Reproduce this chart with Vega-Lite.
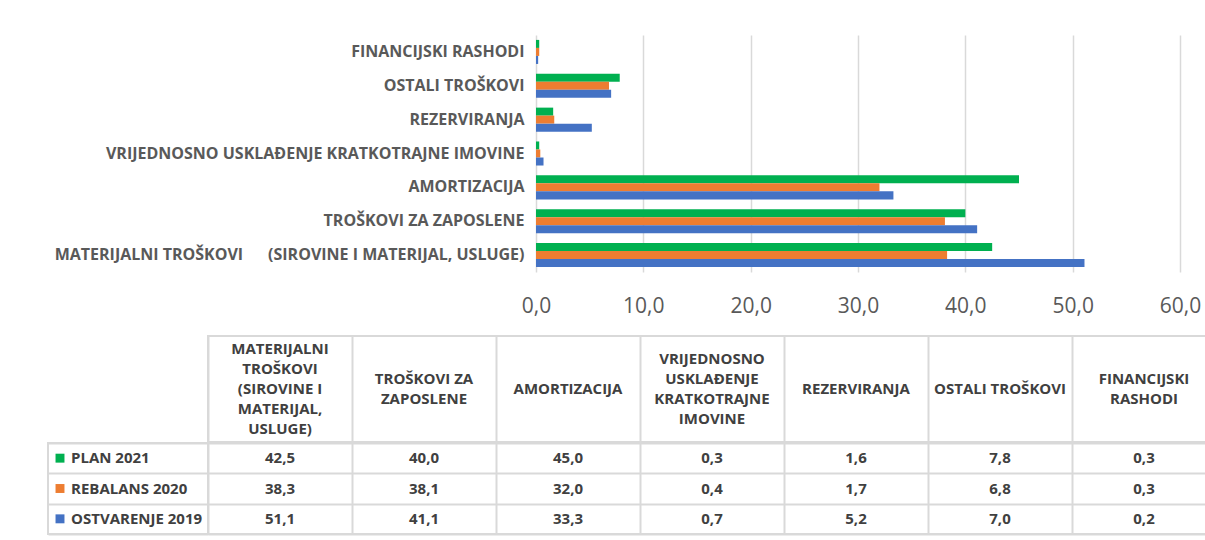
{
  "$schema": "https://vega.github.io/schema/vega-lite/v6.json",
  "padding": {"left": 47, "top": 35, "right": 0, "bottom": 5},
  "background": "white",
  "spacing": 19,
  "config": {
    "view": {"stroke": null},
    "locale": {"number": {"decimal": ",", "thousands": ".", "grouping": [3], "currency": ["", " kn"]}}
  },
  "datasets": {
    "costs": [
      {"kategorija": "MATERIJALNI TROŠKOVI (SIROVINE I MATERIJAL, USLUGE)", "serija": "PLAN 2021", "vrijednost": 42.5},
      {"kategorija": "MATERIJALNI TROŠKOVI (SIROVINE I MATERIJAL, USLUGE)", "serija": "REBALANS 2020", "vrijednost": 38.3},
      {"kategorija": "MATERIJALNI TROŠKOVI (SIROVINE I MATERIJAL, USLUGE)", "serija": "OSTVARENJE 2019", "vrijednost": 51.1},
      {"kategorija": "TROŠKOVI ZA ZAPOSLENE", "serija": "PLAN 2021", "vrijednost": 40.0},
      {"kategorija": "TROŠKOVI ZA ZAPOSLENE", "serija": "REBALANS 2020", "vrijednost": 38.1},
      {"kategorija": "TROŠKOVI ZA ZAPOSLENE", "serija": "OSTVARENJE 2019", "vrijednost": 41.1},
      {"kategorija": "AMORTIZACIJA", "serija": "PLAN 2021", "vrijednost": 45.0},
      {"kategorija": "AMORTIZACIJA", "serija": "REBALANS 2020", "vrijednost": 32.0},
      {"kategorija": "AMORTIZACIJA", "serija": "OSTVARENJE 2019", "vrijednost": 33.3},
      {"kategorija": "VRIJEDNOSNO USKLAĐENJE KRATKOTRAJNE IMOVINE", "serija": "PLAN 2021", "vrijednost": 0.3},
      {"kategorija": "VRIJEDNOSNO USKLAĐENJE KRATKOTRAJNE IMOVINE", "serija": "REBALANS 2020", "vrijednost": 0.4},
      {"kategorija": "VRIJEDNOSNO USKLAĐENJE KRATKOTRAJNE IMOVINE", "serija": "OSTVARENJE 2019", "vrijednost": 0.7},
      {"kategorija": "REZERVIRANJA", "serija": "PLAN 2021", "vrijednost": 1.6},
      {"kategorija": "REZERVIRANJA", "serija": "REBALANS 2020", "vrijednost": 1.7},
      {"kategorija": "REZERVIRANJA", "serija": "OSTVARENJE 2019", "vrijednost": 5.2},
      {"kategorija": "OSTALI TROŠKOVI", "serija": "PLAN 2021", "vrijednost": 7.8},
      {"kategorija": "OSTALI TROŠKOVI", "serija": "REBALANS 2020", "vrijednost": 6.8},
      {"kategorija": "OSTALI TROŠKOVI", "serija": "OSTVARENJE 2019", "vrijednost": 7.0},
      {"kategorija": "FINANCIJSKI RASHODI", "serija": "PLAN 2021", "vrijednost": 0.3},
      {"kategorija": "FINANCIJSKI RASHODI", "serija": "REBALANS 2020", "vrijednost": 0.3},
      {"kategorija": "FINANCIJSKI RASHODI", "serija": "OSTVARENJE 2019", "vrijednost": 0.2}
    ],
    "zaglavlja": [
      {"kategorija": "MATERIJALNI TROŠKOVI (SIROVINE I MATERIJAL, USLUGE)", "zaglavlje": "MATERIJALNI\nTROŠKOVI\n(SIROVINE I\nMATERIJAL,\nUSLUGE)"},
      {"kategorija": "TROŠKOVI ZA ZAPOSLENE", "zaglavlje": "TROŠKOVI ZA\nZAPOSLENE"},
      {"kategorija": "AMORTIZACIJA", "zaglavlje": "AMORTIZACIJA"},
      {"kategorija": "VRIJEDNOSNO USKLAĐENJE KRATKOTRAJNE IMOVINE", "zaglavlje": "VRIJEDNOSNO\nUSKLAĐENJE\nKRATKOTRAJNE\nIMOVINE"},
      {"kategorija": "REZERVIRANJA", "zaglavlje": "REZERVIRANJA"},
      {"kategorija": "OSTALI TROŠKOVI", "zaglavlje": "OSTALI TROŠKOVI"},
      {"kategorija": "FINANCIJSKI RASHODI", "zaglavlje": "FINANCIJSKI\nRASHODI"}
    ],
    "serije": [
      {"serija": "PLAN 2021"},
      {"serija": "REBALANS 2020"},
      {"serija": "OSTVARENJE 2019"}
    ]
  },
  "vconcat": [
    {
      "width": 1158,
      "height": 237,
      "data": {"name": "costs"},
      "mark": {"type": "bar"},
      "encoding": {
        "y": {
          "field": "kategorija",
          "type": "nominal",
          "sort": ["FINANCIJSKI RASHODI", "OSTALI TROŠKOVI", "REZERVIRANJA", "VRIJEDNOSNO USKLAĐENJE KRATKOTRAJNE IMOVINE", "AMORTIZACIJA", "TROŠKOVI ZA ZAPOSLENE", "MATERIJALNI TROŠKOVI (SIROVINE I MATERIJAL, USLUGE)"],
          "scale": {"paddingInner": 0.29, "paddingOuter": 0.145},
          "axis": {
            "title": null,
            "domain": false,
            "ticks": false,
            "offset": -488,
            "labelFont": "Open Sans",
            "labelFontWeight": "bold",
            "labelFontSize": 16,
            "labelColor": "#595959",
            "labelPadding": 12,
            "labelLimit": 485,
            "labelExpr": "replace(datum.label, 'TROŠKOVI (', 'TROŠKOVI\u00a0\u00a0\u00a0\u00a0\u00a0 (')"
          }
        },
        "yOffset": {
          "field": "serija",
          "type": "nominal",
          "sort": ["PLAN 2021", "REBALANS 2020", "OSTVARENJE 2019"],
          "scale": {"paddingInner": 0, "paddingOuter": 0}
        },
        "x": {
          "field": "vrijednost",
          "type": "quantitative",
          "scale": {"domain": [-45.466, 62.422], "nice": false, "zero": false},
          "axis": {
            "title": null,
            "values": [0, 10, 20, 30, 40, 50, 60],
            "format": ".1f",
            "domain": false,
            "ticks": false,
            "grid": true,
            "gridColor": "#d9d9d9",
            "gridWidth": 1.5,
            "labelFont": "Open Sans",
            "labelFontSize": 21,
            "labelColor": "#595959",
            "labelPadding": 23
          }
        },
        "x2": {"datum": 0},
        "color": {
          "field": "serija",
          "type": "nominal",
          "scale": {"domain": ["PLAN 2021", "REBALANS 2020", "OSTVARENJE 2019"], "range": ["#00b050", "#ed7d31", "#4472c4"]},
          "legend": null
        }
      }
    },
    {
      "vconcat": [
        {
          "hconcat": [
            {
              "width": 160,
              "height": 106,
              "data": {"values": [{}]},
              "mark": {"type": "text", "text": ""}
            },
            {
              "width": 1008,
              "height": 106,
              "view": {"stroke": "#d9d9d9", "strokeWidth": 2},
              "data": {"name": "zaglavlja"},
              "encoding": {
                "x": {
                  "field": "kategorija",
                  "type": "nominal",
                  "scale": {"domain": ["MATERIJALNI TROŠKOVI (SIROVINE I MATERIJAL, USLUGE)", "TROŠKOVI ZA ZAPOSLENE", "AMORTIZACIJA", "VRIJEDNOSNO USKLAĐENJE KRATKOTRAJNE IMOVINE", "REZERVIRANJA", "OSTALI TROŠKOVI", "FINANCIJSKI RASHODI"], "paddingInner": 0, "paddingOuter": 0},
                  "axis": {"title": null, "labels": false, "ticks": false, "domain": false, "grid": true, "tickBand": "extent", "gridColor": "#d9d9d9", "gridWidth": 2}
                },
                "text": {"field": "zaglavlje"}
              },
              "layer": [
                {
                  "transform": [{"filter": "length(split(datum.zaglavlje, '\\n')) == 1"}],
                  "mark": {"type": "text", "lineBreak": "\n", "lineHeight": 20, "font": "Open Sans", "fontWeight": "bold", "fontSize": 15, "color": "#404040", "baseline": "middle", "align": "center", "dy": 0}
                },
                {
                  "transform": [{"filter": "length(split(datum.zaglavlje, '\\n')) == 2"}],
                  "mark": {"type": "text", "lineBreak": "\n", "lineHeight": 20, "font": "Open Sans", "fontWeight": "bold", "fontSize": 15, "color": "#404040", "baseline": "middle", "align": "center", "dy": -10}
                },
                {
                  "transform": [{"filter": "length(split(datum.zaglavlje, '\\n')) == 4"}],
                  "mark": {"type": "text", "lineBreak": "\n", "lineHeight": 20, "font": "Open Sans", "fontWeight": "bold", "fontSize": 15, "color": "#404040", "baseline": "middle", "align": "center", "dy": -30}
                },
                {
                  "transform": [{"filter": "length(split(datum.zaglavlje, '\\n')) == 5"}],
                  "mark": {"type": "text", "lineBreak": "\n", "lineHeight": 20, "font": "Open Sans", "fontWeight": "bold", "fontSize": 15, "color": "#404040", "baseline": "middle", "align": "center", "dy": -40}
                }
              ]
            }
          ],
          "spacing": 0,
          "bounds": "flush"
        },
        {
          "hconcat": [
            {
              "width": 160,
              "height": 91,
              "view": {"stroke": "#d9d9d9", "strokeWidth": 2},
              "data": {"name": "serije"},
              "encoding": {
                "y": {
                  "field": "serija",
                  "type": "nominal",
                  "sort": ["PLAN 2021", "REBALANS 2020", "OSTVARENJE 2019"],
                  "scale": {"paddingInner": 0, "paddingOuter": 0},
                  "axis": {"title": null, "labels": false, "ticks": false, "domain": false, "grid": true, "tickBand": "extent", "gridColor": "#d9d9d9", "gridWidth": 2}
                }
              },
              "layer": [
                {
                  "mark": {"type": "point", "shape": "square", "filled": true, "size": 80, "opacity": 1, "xOffset": -68},
                  "encoding": {
                    "color": {
                      "field": "serija",
                      "type": "nominal",
                      "scale": {"domain": ["PLAN 2021", "REBALANS 2020", "OSTVARENJE 2019"], "range": ["#00b050", "#ed7d31", "#4472c4"]},
                      "legend": null
                    }
                  }
                },
                {
                  "mark": {"type": "text", "align": "left", "dx": -57, "font": "Open Sans", "fontWeight": "bold", "fontSize": 15, "color": "#404040"},
                  "encoding": {"text": {"field": "serija"}}
                }
              ]
            },
            {
              "width": 1008,
              "height": 91,
              "view": {"stroke": "#d9d9d9", "strokeWidth": 2},
              "data": {"name": "costs"},
              "mark": {"type": "text", "font": "Open Sans", "fontWeight": "bold", "fontSize": 15, "color": "#404040"},
              "encoding": {
                "x": {
                  "field": "kategorija",
                  "type": "nominal",
                  "scale": {"domain": ["MATERIJALNI TROŠKOVI (SIROVINE I MATERIJAL, USLUGE)", "TROŠKOVI ZA ZAPOSLENE", "AMORTIZACIJA", "VRIJEDNOSNO USKLAĐENJE KRATKOTRAJNE IMOVINE", "REZERVIRANJA", "OSTALI TROŠKOVI", "FINANCIJSKI RASHODI"], "paddingInner": 0, "paddingOuter": 0},
                  "axis": {"title": null, "labels": false, "ticks": false, "domain": false, "grid": true, "tickBand": "extent", "gridColor": "#d9d9d9", "gridWidth": 2}
                },
                "y": {
                  "field": "serija",
                  "type": "nominal",
                  "sort": ["PLAN 2021", "REBALANS 2020", "OSTVARENJE 2019"],
                  "scale": {"paddingInner": 0, "paddingOuter": 0},
                  "axis": {"title": null, "labels": false, "ticks": false, "domain": false, "grid": true, "tickBand": "extent", "gridColor": "#d9d9d9", "gridWidth": 2}
                },
                "text": {"field": "vrijednost", "type": "quantitative", "format": ".1f"}
              }
            }
          ],
          "spacing": 0,
          "bounds": "flush"
        }
      ],
      "spacing": -2
    }
  ]
}
